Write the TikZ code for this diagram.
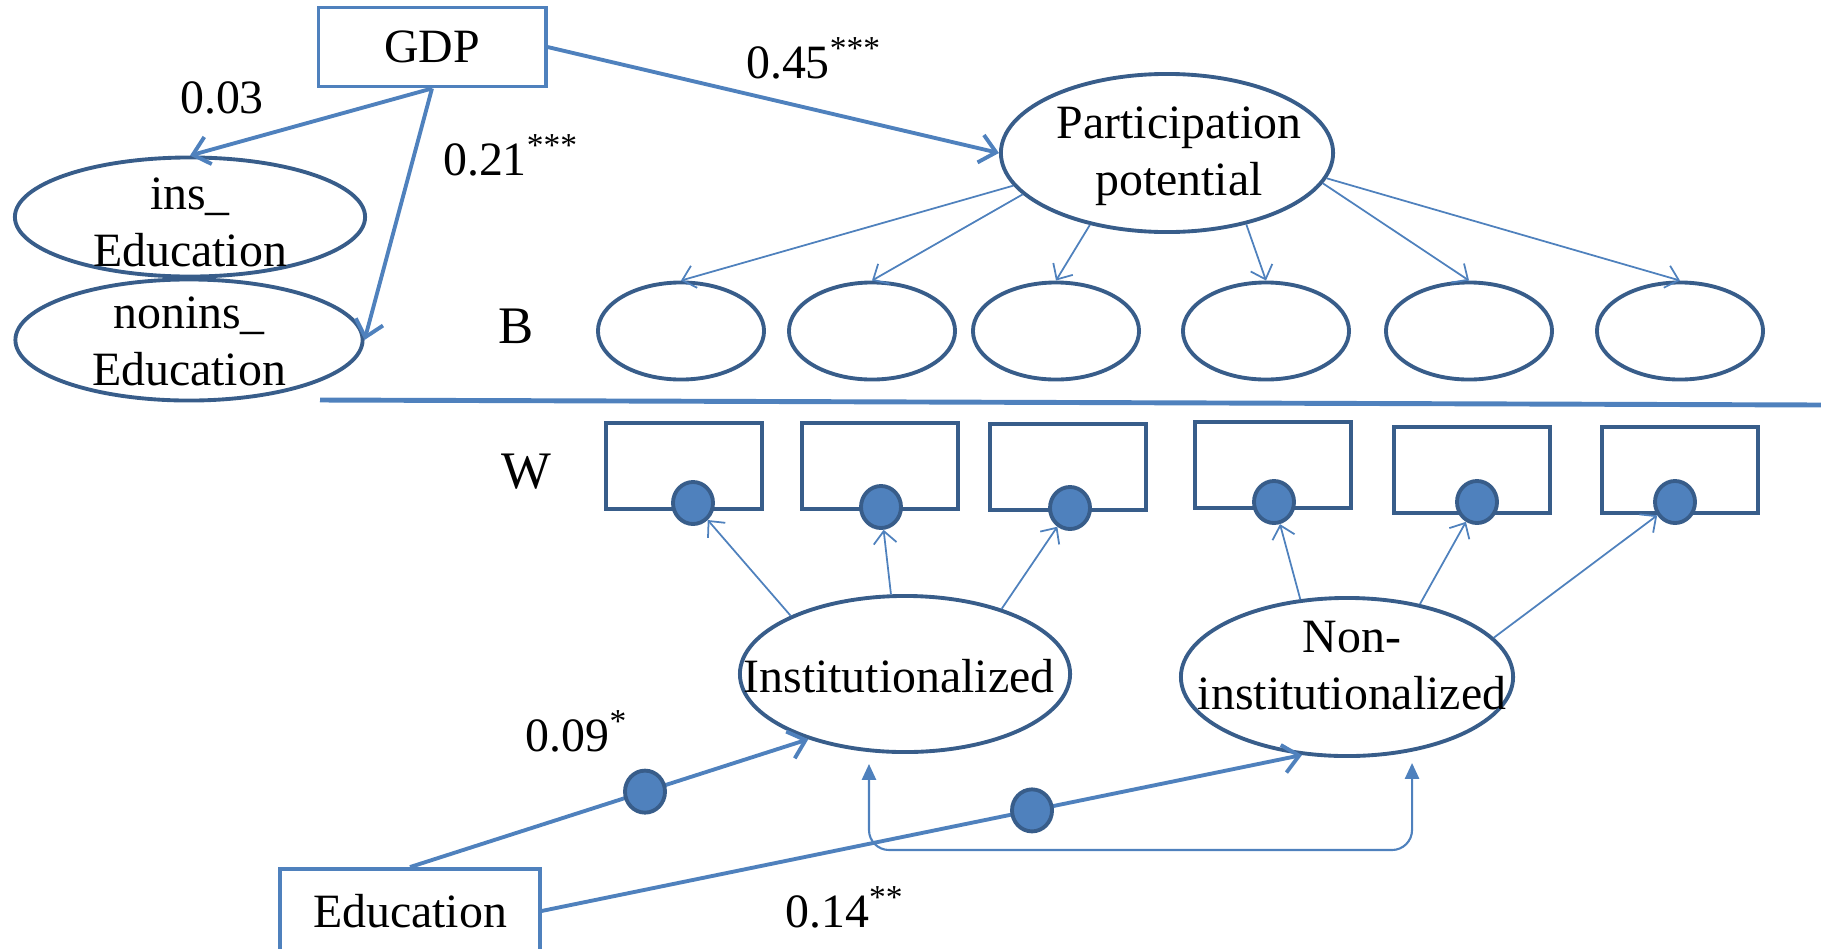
\documentclass[tikz,border=0pt]{standalone}
\usepackage{fontspec}
\setmainfont{Liberation Serif}
\usepackage{tikz}
\usetikzlibrary{arrows.meta,positioning,shapes.geometric}
\definecolor{pathblue}{HTML}{4F81BD}
\definecolor{shapeblue}{HTML}{385D8A}

\begin{document}
\begin{tikzpicture}[x=0.01cm,y=-0.01cm,
    font=\fontsize{13.6}{16.2}\selectfont,
    latent/.style={ellipse,draw=shapeblue,line width=1.1pt,inner sep=0pt},
    txt/.style={align=center,inner sep=0pt},
    varbox/.style={rectangle,draw=pathblue,line width=1.1pt,inner sep=0pt},
    obsbox/.style={rectangle,draw=shapeblue,line width=1.3pt,minimum width=1.56cm,minimum height=0.86cm},
    blob/.style={ellipse,fill=pathblue,draw=shapeblue,line width=1.1pt,minimum width=0.4cm,minimum height=0.42cm,inner sep=0pt},
    effect/.style={draw=pathblue,line width=1.1pt,-{Straight Barb[length=4.5pt,width=8pt]}},
    loading/.style={draw=pathblue,line width=0.5pt,-{Straight Barb[length=3.5pt,width=6.5pt]}},
    covar/.style={draw=pathblue,line width=0.6pt,{Triangle[length=4.5pt,width=4pt]}-{Triangle[length=4.5pt,width=4pt]},rounded corners=0.2cm},
    coef/.style={anchor=base,inner sep=0pt},
    rowname/.style={anchor=base,inner sep=0pt,font=\fontsize{15}{18}\selectfont}]
  \useasboundingbox (0,0) rectangle (1821,948);
  \clip (0,0) rectangle (1821,948);

  \node[varbox,minimum width=2.27cm,minimum height=0.79cm] (gdp) at (432,47) {GDP};
  \node[latent,minimum width=3.5cm,minimum height=1.19cm] (insedu) at (190,217) {};
  \node[txt] (insedutxt) at (190,222) {ins\_\\Education};
  \node[latent,minimum width=3.47cm,minimum height=1.21cm] (noninsedu) at (189,340) {};
  \node[txt] (noninsedutxt) at (189,341) {nonins\_\\Education};
  \node[latent,minimum width=3.32cm,minimum height=1.58cm] (part) at (1167,153) {};
  \node[txt] (parttxt) at (1179,156) {Participation\\potential};

  \draw[effect] (gdp.south) -- (insedu.north);
  \draw[effect] (gdp.south) -- (noninsedu.east);
  \draw[effect] (gdp.east) -- (part.west);
  \node[coef] (c003) at (222,113) {0.03};
  \node[coef] (c021) at (511,175) {0.21\textsuperscript{***}};
  \node[coef] (c045) at (814,78) {0.45\textsuperscript{***}};

  \node[rowname] (brow) at (516,343) {B};
  \foreach \i/\x/\a in {1/681/192,2/872/196,3/1056/223,4/1266/318,5/1469/349,6/1680/351} {
    \node[latent,minimum width=1.66cm,minimum height=0.97cm] (b\i) at (\x,331) {};
    \draw[loading] (part.\a) -- (b\i.north);
  }

  \draw[pathblue,line width=1.4pt] (320,400) -- (1821,405);

  \node[rowname] (wrow) at (526,488) {W};
  \foreach \i/\x/\y/\dx/\dy in {1/684/466/693/503,2/880/466/881/507,3/1068/467/1070/508,4/1273/465/1274/502,5/1472/470/1477/502,6/1680/470/1675/502} {
    \node[obsbox] (w\i) at (\x,\y) {};
    \node[blob] (d\i) at (\dx,\dy) {};
  }

  \node[latent,minimum width=3.3cm,minimum height=1.56cm] (inst) at (905,674) {};
  \node[txt] (insttxt) at (899,676) {Institutionalized};
  \node[latent,minimum width=3.32cm,minimum height=1.58cm] (noninst) at (1347,677) {};
  \node[txt] (noninsttxt) at (1352,666) {Non-\\institutionalized};

  \draw[loading] (inst.153) -- (d1);
  \draw[loading] (inst.100) -- (d2);
  \draw[loading] (inst.34) -- (d3);
  \draw[loading] (noninst.121) -- (d4);
  \draw[loading] (noninst.45) -- (d5);
  \draw[loading] (noninst.15) -- (d6);

  \node[varbox,minimum width=2.59cm,minimum height=0.84cm] (edu) at (410,911) {Education};
  \coordinate (covbot) at (1140,850);
  \draw[covar] ([xshift=-0.36cm,yshift=-0.1cm]inst.south) |- (covbot) -| ([xshift=0.65cm,yshift=-0.05cm]noninst.south);
  \draw[effect] (edu.north) -- node[blob,pos=0.59] (m1) {} (inst.214);
  \draw[effect] (edu.east) -- node[blob,pos=0.645] (m2) {} (noninst.240);
  \node[coef] (c009) at (577,751) {0.09\textsuperscript{*}};
  \node[coef] (c014) at (845,927) {0.14\textsuperscript{**}};
\end{tikzpicture}
\end{document}
